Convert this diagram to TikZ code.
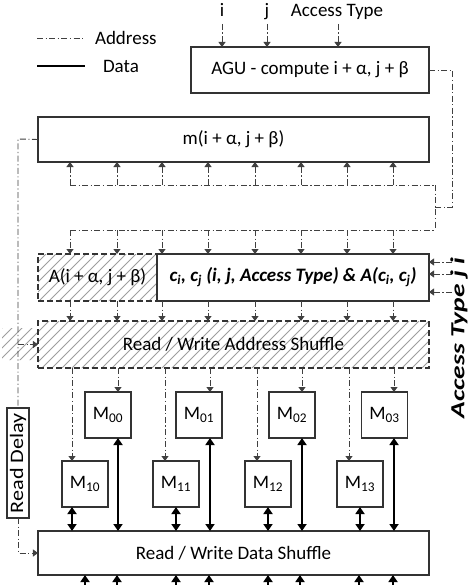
\documentclass[tikz,border=0pt]{standalone}
\usepackage{fontspec}
\setmainfont{Carlito}
\usetikzlibrary{arrows.meta,calc}
\newcommand{\figfont}{\fontsize{19bp}{22bp}\selectfont}
\newcommand{\vfont}{\fontsize{20bp}{22bp}\selectfont}
\begin{document}
\begin{tikzpicture}[x=1bp,y=-1bp,
  box/.style={draw=black!80, line width=1.1bp, inner sep=0pt, outer sep=0pt, font=\figfont, align=center},
  dbox/.style={box, dash pattern=on 6bp off 3bp},
  addr/.style={draw=black!75, line width=0.9bp, dash pattern=on 6bp off 2.5bp on 1.2bp off 2.5bp},
  adarr/.style={addr, -{Triangle[length=5bp,width=7bp]}},
  data/.style={draw=black, line width=2.3bp},
  ddarr/.style={data, {Triangle[length=7bp,width=9bp]}-{Triangle[length=7bp,width=9bp]}},
  darr/.style={data, -{Triangle[length=7bp,width=9bp]}},
  lbl/.style={font=\figfont, inner sep=0pt, outer sep=0pt},
  hatchline/.style={draw=black!38, line width=0.8bp}
]
\useasboundingbox (0,0) rectangle (469,585);
\fill[white] (0,0) rectangle (469,585);

% hatching
\begin{scope}
\clip (38,254) rectangle (157,301) (38,321) rectangle (429,368) (2,328) rectangle (38,360);
\foreach \k in {-600,-590,...,480}{
  \draw[hatchline] (\k,600) -- ++(600,-600);
}
\end{scope}

% legend
\coordinate (la1) at (37,38); \coordinate (la2) at (85,38);
\draw[addr] (la1) -- (la2);
\node[lbl, anchor=west] (laddr) at (95,38) {Address};
\coordinate (ld1) at (37,66); \coordinate (ld2) at (85,66);
\draw[data, line width=2.8bp] (ld1) -- (ld2);
\node[lbl, anchor=west] (ldata) at (103,66) {Data};

% boxes
\node[box, minimum width=238bp, minimum height=46bp] (agu) at (310,70) {AGU - compute i + α, j + β};
\node[box, minimum width=391bp, minimum height=45bp] (m) at (233.5,139.5) {m(i + α, j + β)};
\node[dbox, minimum width=119bp, minimum height=47bp] (abox) at (97.5,277.5) {A(i + α, j + β)};
\node[box, fill=white, minimum width=272bp, minimum height=47bp] (cbox) at (293,277.5)
  {\bfseries\itshape c\textsubscript{i}, c\textsubscript{j} (i, j, Access Type) \& A(c\textsubscript{i}, c\textsubscript{j})};
\node[dbox, minimum width=391bp, minimum height=47bp] (ash) at (233.5,344.5) {Read / Write Address Shuffle};
\node[box, minimum width=391bp, minimum height=44bp] (dsh) at (233.5,553) {Read / Write Data Shuffle};
\node[box, minimum width=22bp, minimum height=110bp] (rd) at (18,463) {\rotatebox{90}{\resizebox{100bp}{\height}{Read Delay}}};

\foreach \n/\cx in {00/108,01/199,02/292,03/384.5}{
  \node[box, minimum width=46bp, minimum height=46bp] (M\n) at (\cx,415) {M\textsubscript{\n}};
}
\foreach \n/\cx in {10/85,11/176,12/268,13/360}{
  \node[box, minimum width=46bp, minimum height=46bp] (M\n) at (\cx,484) {M\textsubscript{\n}};
}

% top inputs
\node[lbl, anchor=base] (ti) at (222,17) {i};
\node[lbl, anchor=base] (tj) at (267,17) {j};
\node[lbl, anchor=base] (tat) at (337,17) {Access Type};
\coordinate (ti0) at (222,24); \coordinate (tj0) at (267,24); \coordinate (tat0) at (338,24);
\draw[adarr] (ti0) -- (ti0 |- agu.north);
\draw[adarr] (tj0) -- (tj0 |- agu.north);
\draw[adarr] (tat0) -- (tat0 |- agu.north);

% right feedback path and buses
\coordinate (b1L) at (70,185); \coordinate (b1R) at (435,185);
\coordinate (b2L) at (70,230); \coordinate (b2R) at (435,230);
\coordinate (jn) at (435,207);
\draw[addr] (agu.east) -- ++(23,0) |- (jn);
\draw[addr] (b1R) -- (b2R);
\draw[addr] (b1L) -- (b1R);
\draw[addr] (b2L) -- (b2R);
\foreach \x in {70,117,162,208,255,301,347,393}{
  \coordinate (u) at (\x,185);
  \draw[adarr] (u) -- (u |- m.south);
  \coordinate (v) at (\x,230);
  \draw[adarr] (v) -- (v |- cbox.north);
  \draw[adarr] (v |- cbox.south) -- (v |- ash.north);
}

% right side inputs of cbox
\foreach \y in {262,274,292}{
  \coordinate (r) at (452,\y);
  \draw[adarr] (r) -- (r -| cbox.east);
}
\node[inner sep=0pt, outer sep=0pt, font=\vfont, rotate=90, anchor=west] (vat) at (459,418)
  {\resizebox{160bp}{\height}{\bfseries\itshape Access Type j i}};

% left read delay path
\coordinate (lc) at (18,139);
\draw[addr] (m.west) -- (lc) -- (rd.north);
\draw[adarr] (rd.north |- ash.west) -- (ash.west);
\draw[adarr] (rd.south) |- (dsh.west);

% feeds into memory banks
\foreach \n/\fx in {00/118,01/210,02/302,03/394}{
  \coordinate (f) at (\fx,0);
  \draw[adarr] (f |- ash.south) -- (f |- M\n.north);
  \draw[ddarr] (f |- M\n.south) -- (f |- dsh.north);
}
\foreach \n/\fx/\dx in {10/72/72,11/165/176,12/257/268,13/349/360}{
  \coordinate (f) at (\fx,0);
  \coordinate (g) at (\dx,0);
  \draw[adarr] (f |- ash.south) -- (f |- M\n.north);
  \draw[ddarr] (g |- M\n.south) -- (g |- dsh.north);
}

% bottom data inputs
\foreach \x in {85,117,176,209,268,300,359,393}{
  \coordinate (w) at (\x,595);
  \draw[darr] (w) -- (w |- dsh.south);
}
\end{tikzpicture}
\end{document}
